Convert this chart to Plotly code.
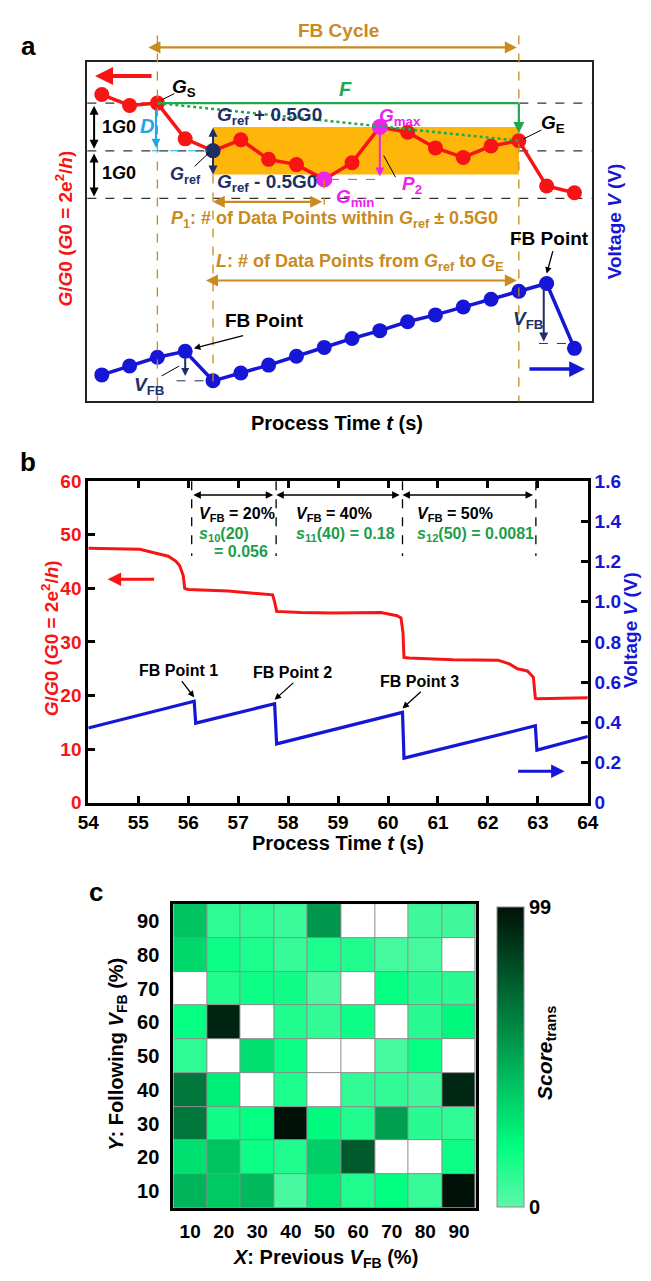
import plotly.graph_objects as go

W, H = 651, 1281
FONT = "Liberation Sans, Arial, Helvetica, sans-serif"
RED = "#F81414"
BLUE = "#1616D6"
NAVY = "#1E2F66"
ORANGE = "#C98A1E"
BAND = "#FFB60A"
MAGENTA = "#EE22EE"
GREEN = "#22A84C"
SGREEN = "#1E9E4A"
CYAN = "#1EA6E6"

# ---------------- panel a: schematic of one feedback cycle ----------------
a_idx = list(range(18))
a_G = [3.18, 2.95, 3.0, 2.25, 2.0, 2.23, 1.82, 1.71, 1.40, 1.75,
       2.5, 2.39, 2.06, 1.86, 2.10, 2.21, 1.26, 1.12]
a_V = [0.27, 0.36, 0.45, 0.51, 0.21, 0.29, 0.37, 0.46, 0.55, 0.64,
       0.72, 0.81, 0.88, 0.96, 1.04, 1.12, 1.20, 0.54]
I_S, I_REF, I_MIN, I_MAX, I_E = 2, 4, 8, 10, 15   # G_S, G_ref, G_min, G_max, G_E
I_FB1, I_FB2 = 3, 16                             # feedback points on the voltage ramp

# ---------------- panel b: measured conductance / voltage ----------------
b_t = [54.0, 55.03, 55.6, 55.75, 55.83, 55.9, 55.93, 56.0, 56.8, 57.37,
       57.69, 57.73, 57.77, 58.25, 58.9, 59.86, 60.18, 60.26, 60.3, 60.32,
       60.42, 61.3, 62.2, 62.43, 62.59, 62.79, 62.91, 62.95, 62.99, 64.0]
b_G = [47.5, 47.3, 46.0, 45.1, 44.2, 42.4, 40.0, 39.8, 39.5, 39.0,
       38.8, 37.5, 35.7, 35.5, 35.4, 35.5, 34.9, 34.5, 31.7, 27.1,
       27.0, 26.7, 26.6, 25.9, 25.0, 24.6, 23.4, 19.5, 19.4, 19.6]
b_vt = [54.0, 56.12, 56.15, 57.73, 57.77, 60.29, 60.32, 62.95, 62.98, 64.0]
b_V = [0.372, 0.505, 0.396, 0.493, 0.293, 0.450, 0.222, 0.383, 0.262, 0.330]
fb_t = [56.07, 57.76, 60.29, 62.96]
fb_labels = ["20%", "40%", "50%"]
x_ticks_b = list(range(54, 65))
g_ticks_b = [0, 10, 20, 30, 40, 50, 60]
v_ticks_b = [0, 0.2, 0.4, 0.6, 0.8, 1.0, 1.2, 1.4, 1.6]
v_ticktext_b = ["0", "0.2", "0.4", "0.6", "0.8", "1.0", "1.2", "1.4", "1.6"]

# ---------------- panel c: transition score map ----------------
prev_vfb = [10, 20, 30, 40, 50, 60, 70, 80, 90]
follow_vfb = [10, 20, 30, 40, 50, 60, 70, 80, 90]
score = [
    [45, 38, 43, 4, 27, 13, 20, 8, 99],           # Y = 10
    [30, 40, 17, 13, 36, 75, None, None, 17],     # Y = 20
    [65, 16, 19, 99, 21, 13, 52, 11, 10],         # Y = 30
    [65, 25, None, 14, None, 9, 9, 6, 92],        # Y = 40
    [10, None, 30, 17, None, None, 5, 19, None],  # Y = 50
    [19, 93, None, 13, 9, 17, None, 11, 22],      # Y = 60
    [None, 13, 17, 16, 4, None, 19, 11, 11],      # Y = 70
    [33, 17, 14, 8, 14, 13, 5, 5, None],          # Y = 80
    [40, 10, 10, 7, 55, None, None, 6, 6],        # Y = 90
]


def PX(x):
    return x / W


def PY(y):
    return 1 - y / H


# panel a geometry
A_L, A_R, A_T, A_B = 79, 601, 53, 398
A_XR = (-0.52, 17.62)
A_GR = (-3.26, 3.86)
A_VR = (0, 3.45)


def apx(i):
    return A_L + (i - A_XR[0]) / (A_XR[1] - A_XR[0]) * (A_R - A_L)


def apy(g):
    return A_B - (g - A_GR[0]) / (A_GR[1] - A_GR[0]) * (A_B - A_T)


def apv(v):
    return A_B - (v - A_VR[0]) / (A_VR[1] - A_VR[0]) * (A_B - A_T)


# panel b geometry
B_L, B_R, B_T, B_B = 80, 597, 479, 806
B_XR, B_GR, B_VR = (54, 64), (0, 60), (0, 1.6)


def bpx(t):
    return B_L + (t - B_XR[0]) / (B_XR[1] - B_XR[0]) * (B_R - B_L)


def bpg(g):
    return B_B - (g - B_GR[0]) / (B_GR[1] - B_GR[0]) * (B_B - B_T)


def bpv(v):
    return B_B - (v - B_VR[0]) / (B_VR[1] - B_VR[0]) * (B_B - B_T)


# panel c geometry
C_L, C_R, C_T, C_B = 168, 481, 909, 1218

annotations = []
shapes = []


def txt(x, y, s, size=16, color="black", xanchor="center", yanchor="middle", angle=0):
    annotations.append(dict(
        x=PX(x), y=PY(y), xref="paper", yref="paper", text=s, showarrow=False,
        font=dict(family=FONT, size=size, color=color, weight="bold"),
        xanchor=xanchor, yanchor=yanchor, textangle=angle))


def arrow(x0, y0, x1, y1, color, width=2.0, head=2, size=1.0, both=False):
    annotations.append(dict(
        x=PX(x1), y=PY(y1), xref="paper", yref="paper",
        ax=x0 - x1, ay=y0 - y1, axref="pixel", ayref="pixel",
        text="", showarrow=True, arrowhead=head, startarrowhead=head,
        arrowsize=size, startarrowsize=size, arrowwidth=width, arrowcolor=color,
        arrowside="end+start" if both else "end"))


def seg(x0, y0, x1, y1, color, width=1.5, dash="solid", layer="above"):
    shapes.append(dict(type="line", xref="paper", yref="paper",
                       x0=PX(x0), y0=PY(y0), x1=PX(x1), y1=PY(y1),
                       line=dict(color=color, width=width, dash=dash), layer=layer))


fig = go.Figure()

# ---------------- panel a traces ----------------
G_S, G_REF, G_MIN, G_MAX, G_E = a_G[I_S], a_G[I_REF], a_G[I_MIN], a_G[I_MAX], a_G[I_E]

fig.add_trace(go.Scatter(x=a_idx, y=a_G, xaxis="x", yaxis="y", mode="lines+markers",
                         line=dict(color=RED, width=3.5), marker=dict(color=RED, size=15)))
fig.add_trace(go.Scatter(x=[I_REF], y=[G_REF], xaxis="x", yaxis="y", mode="markers",
                         marker=dict(color=NAVY, size=15)))
fig.add_trace(go.Scatter(x=[I_MIN, I_MAX], y=[G_MIN, G_MAX], xaxis="x", yaxis="y", mode="markers",
                         marker=dict(color=MAGENTA, size=16)))
fig.add_trace(go.Scatter(x=a_idx, y=a_V, xaxis="x", yaxis="y2", mode="lines+markers",
                         line=dict(color=BLUE, width=3.5), marker=dict(color=BLUE, size=15)))

# reference levels and the tolerance band
for g in [G_S, G_REF, G_REF - 1]:
    shapes.append(dict(type="line", xref="x domain", yref="y", x0=0, x1=1, y0=g, y1=g,
                       line=dict(color="#333333", width=1.3, dash="dash"), layer="below"))
shapes.append(dict(type="rect", xref="x", yref="y", x0=I_REF, x1=I_E,
                   y0=G_REF - 0.5, y1=G_REF + 0.5, fillcolor=BAND,
                   line=dict(width=0), layer="below"))

# cycle boundaries
seg(apx(I_S), 26, apx(I_S), A_B, ORANGE, 1.3, "dash")
seg(apx(I_E), 26, apx(I_E), A_B, ORANGE, 1.3, "dash")
seg(apx(I_REF), apy(G_REF - 0.5), apx(I_REF), 381, ORANGE, 1.3, "dash")
seg(apx(I_MIN), apy(G_MIN), apx(I_MIN), 198, ORANGE, 1.3, "dash")
arrow(apx(I_S) + 2, 38, apx(I_E) - 2, 38, ORANGE, 2.2, 2, 1.1, both=True)
txt((apx(I_S) + apx(I_E)) / 2, 21, "FB Cycle", 19, ORANGE)

# F : level of G_S carried to the end of the cycle
seg(apx(I_S), apy(G_S), apx(I_E), apy(G_S), GREEN, 2.2)
arrow(apx(I_E), apy(G_S), apx(I_E), apy(G_E) - 8, GREEN, 2.2, 2, 1.0)
seg(apx(I_S), apy(G_S), apx(I_E), apy(G_E), GREEN, 2.5, "dot")
txt(346, 80, "<i>F</i>", 20, GREEN)

# 1 G0 spacing markers
arrow(86, apy(G_S) + 2, 86, apy(G_REF) - 2, "black", 2, 2, 0.9, both=True)
arrow(86, apy(G_REF) + 2, 86, apy(G_REF - 1) - 2, "black", 2, 2, 0.9, both=True)
txt(92, 119, "1<i>G</i>0", 18, "black", xanchor="left")
txt(92, 166, "1<i>G</i>0", 18, "black", xanchor="left")

# D : drop from G_S to G_ref
arrow(150, apy(G_S) + 6, 150, apy(G_REF) - 3, CYAN, 2, 2, 0.9)
seg(146, apy(G_REF), apx(I_REF) - 6, apy(G_REF), CYAN, 1, "dash")
txt(141, 118, "<i>D</i>", 20, CYAN)

# G_ref +/- 0.5 G0
arrow(apx(I_REF), apy(G_REF + 0.5), apx(I_REF), apy(G_REF - 0.5), NAVY, 2, 2, 0.9, both=True)
txt(211, 108, "<i>G</i><sub>ref</sub> + 0.5G0", 19, NAVY, xanchor="left")
txt(211, 176, "<i>G</i><sub>ref</sub> - 0.5G0", 19, NAVY, xanchor="left")
txt(181, 168, "<i>G</i><sub>ref</sub>", 18, NAVY)
seg(190, 159, apx(I_REF) - 4, apy(G_REF) + 2, "black", 1)

# G_S, G_E labels
txt(179, 79, "<i>G</i><sub>S</sub>", 19, "black")
seg(169, 85, apx(I_S) + 4, apy(G_S) - 3, "black", 1)
txt(561, 116, "<i>G</i><sub>E</sub>", 19, "black")
seg(549, 122, apx(I_E) + 5, apy(G_E) - 2, "black", 1)

# G_max / G_min and P2
arrow(apx(I_MAX), apy(G_MAX) + 7, apx(I_MAX), apy(G_MIN) - 3, MAGENTA, 2, 2, 0.9)
seg(apx(I_MIN) + 6, apy(G_MIN), apx(I_MAX), apy(G_MIN), MAGENTA, 1, "dash")
txt(403, 109, "<i>G</i><sub>max</sub>", 19, MAGENTA)
txt(356, 191, "<i>G</i><sub>min</sub>", 19, MAGENTA)
txt(415, 178, "<i>P</i><sub>2</sub>", 19, MAGENTA)
seg(398, 170, apx(I_MAX) + 4, 148, "black", 1)

# P1 and L spans
arrow(apx(I_REF) + 2, 195, apx(I_MIN) - 2, 195, ORANGE, 2.2, 2, 1.1, both=True)
txt(335, 213, "<i>P</i><sub>1</sub>: # of Data Points within <i>G</i><sub>ref</sub> \u00b1 0.5G0", 18, ORANGE)
txt(361, 257, "<i>L</i>: # of Data Points from <i>G</i><sub>ref</sub> to <i>G</i><sub>E</sub>", 18, ORANGE)
arrow(apx(I_REF) + 2, 275, apx(I_E) - 2, 275, ORANGE, 2.2, 2, 1.1, both=True)

# feedback points on the voltage ramp
txt(557, 232, "FB Point", 19, "black")
arrow(561, 244, apx(I_FB2), apv(a_V[I_FB2]) - 10, "black", 1.3, 2, 1.0)
arrow(apx(I_FB2) - 3, apv(a_V[I_FB2]) + 6, apx(I_FB2) - 3, apv(a_V[I_FB2 + 1]) - 7, NAVY, 2, 2, 0.9)
seg(apx(I_FB2) - 8, apv(a_V[I_FB2 + 1]) - 5, apx(I_FB2 + 1) - 2, apv(a_V[I_FB2 + 1]) - 5, NAVY, 1, "dash")
txt(535, 315, "<i>V</i><sub>FB</sub>", 19, NAVY)

txt(262, 316, "FB Point", 19, "black")
arrow(240, 331, apx(I_FB1) + 9, apv(a_V[I_FB1]) - 3, "black", 1.3, 2, 1.0)
arrow(apx(I_FB1), apv(a_V[I_FB1]) + 6, apx(I_FB1), apv(a_V[I_FB1 + 1]) - 5, NAVY, 2, 2, 0.8)
seg(apx(I_FB1) - 9, apv(a_V[I_FB1 + 1]), apx(I_FB1 + 1) - 6, apv(a_V[I_FB1 + 1]), NAVY, 1, "dash")
txt(143, 382, "<i>V</i><sub>FB</sub>", 19, NAVY)
seg(156, 372, 174, 362, "black", 1)

# axis indicator arrows
arrow(145, 67, 87, 67, RED, 4, 2, 0.9)
arrow(537, 365, 594, 365, BLUE, 3.5, 2, 0.9)

txt(18, 37, "a", 26, "black")
txt(337, 420, "Process Time <i>t</i> (s)", 20, "black")
txt(55, 222, "<i>G</i>/<i>G</i>0 (<i>G</i>0 = 2e<sup>2</sup>/<i>h</i>)", 19, RED, angle=-90)
txt(625, 215, "Voltage <i>V</i> (V)", 19, BLUE, angle=-90)

# ---------------- panel b traces ----------------
fig.add_trace(go.Scatter(x=b_t, y=b_G, xaxis="x2", yaxis="y3", mode="lines",
                         line=dict(color=RED, width=3)))
fig.add_trace(go.Scatter(x=b_vt, y=b_V, xaxis="x2", yaxis="y4", mode="lines",
                         line=dict(color=BLUE, width=3.2)))

for t in fb_t:
    seg(bpx(t), B_T, bpx(t), 555, "black", 1.3, "dash")
for k in range(3):
    arrow(bpx(fb_t[k]) + 3, 493, bpx(fb_t[k + 1]) - 3, 493, "black", 1.5, 2, 1.0, both=True)

txt(bpx(fb_t[0]) + 6, 513, "<i>V</i><sub>FB</sub> = " + fb_labels[0], 16, "black", xanchor="left")
txt(bpx(fb_t[0]) + 6, 533, "<i>s</i><sub>10</sub>(20)", 16, SGREEN, xanchor="left")
txt(bpx(fb_t[1]) - 6, 551, "= 0.056", 16, SGREEN, xanchor="right")
txt(bpx(fb_t[1]) + 19, 513, "<i>V</i><sub>FB</sub> = " + fb_labels[1], 16, "black", xanchor="left")
txt(bpx(fb_t[1]) + 19, 533, "<i>s</i><sub>11</sub>(40) = 0.18", 16, SGREEN, xanchor="left")
txt(bpx(fb_t[2]) + 13, 513, "<i>V</i><sub>FB</sub> = " + fb_labels[2], 16, "black", xanchor="left")
txt(bpx(fb_t[2]) + 13, 533, "<i>s</i><sub>12</sub>(50) = 0.0081", 16, SGREEN, xanchor="left")

for k, (lx, ly) in enumerate([(173, 672), (291, 674), (423, 683)]):
    peak_t, peak_v = b_vt[2 * k + 1], b_V[2 * k + 1]
    txt(lx, ly, "FB Point %d" % (k + 1), 16, "black")
    arrow(lx + (3 if k == 0 else 2), ly + 9, bpx(peak_t), bpv(peak_v) - 4, "black", 1.3, 2, 1.0)

arrow(148, bpg(41.7), 100, bpg(41.7), RED, 3, 2, 0.9)
arrow(525, bpv(0.157), 573, bpv(0.157), BLUE, 3, 2, 0.9)

txt(18, 460, "b", 26, "black")
txt(338, 847, "Process Time <i>t</i> (s)", 20, "black")
txt(40, 639, "<i>G</i>/<i>G</i>0 (<i>G</i>0 = 2e<sup>2</sup>/<i>h</i>)", 19, RED, angle=-90)
txt(641, 630, "Voltage <i>V</i> (V)", 19, BLUE, angle=-90)

# ---------------- panel c traces ----------------
missing = [[1 if v is None else None for v in row] for row in score]
shapes.append(dict(type="rect", xref="x3", yref="y5", x0=5, x1=95, y0=5, y1=95,
                   fillcolor="#8C8C8C", line=dict(width=0), layer="below"))
fig.add_trace(go.Heatmap(x=prev_vfb, y=follow_vfb, z=missing, xaxis="x3", yaxis="y5",
                         colorscale=[[0, "white"], [1, "white"]], showscale=False,
                         xgap=1, ygap=1, hoverinfo="skip"))
fig.add_trace(go.Heatmap(
    x=prev_vfb, y=follow_vfb, z=score, xaxis="x3", yaxis="y5",
    zmin=0, zmax=99, xgap=1, ygap=1,
    colorscale=[[0, "#5CF7A8"], [0.2, "#00FF80"], [1, "#001208"]],
    colorbar=dict(x=PX(503), xanchor="left", y=PY(912), yanchor="top",
                  len=(1217 - 912) / H, lenmode="fraction",
                  thickness=27, thicknessmode="pixels", xpad=0, ypad=0,
                  outlinewidth=1, outlinecolor="#8C8C8C",
                  tickvals=[0, 99], ticktext=["0", "99"], ticks="",
                  tickfont=dict(family=FONT, size=20, color="black", weight="bold"))))

txt(88, 897, "c", 26, "black")
txt(326, 1269, "<i>X</i>: Previous <i>V</i><sub>FB</sub> (%)", 20, "black")
txt(110, 1062, "<i>Y</i>: Following <i>V</i><sub>FB</sub> (%)", 20, "black", angle=-90)
txt(553, 1060, "<i>Score</i><sub>trans</sub>", 21, "black", angle=-90)

# ---------------- axes ----------------
blank = dict(showgrid=False, zeroline=False, showticklabels=False, ticks="")

fig.update_layout(
    width=W, height=H, margin=dict(l=0, r=0, t=0, b=0),
    paper_bgcolor="white", plot_bgcolor="white", showlegend=False,
    font=dict(family=FONT, color="black"),
    xaxis=dict(domain=[PX(A_L), PX(A_R)], range=list(A_XR), anchor="y",
               showline=True, mirror=True, linecolor="#222", linewidth=2, **blank),
    yaxis=dict(domain=[PY(A_B), PY(A_T)], range=list(A_GR), anchor="x",
               showline=True, mirror=True, linecolor="#222", linewidth=2, **blank),
    yaxis2=dict(overlaying="y", anchor="x", side="right", range=list(A_VR), visible=False),
    xaxis2=dict(domain=[PX(B_L), PX(B_R)], range=list(B_XR), anchor="y3",
                tickvals=x_ticks_b, ticks="inside", ticklen=7, tickwidth=2.5, tickcolor="black",
                showline=True, mirror="ticks", linecolor="black", linewidth=3,
                showgrid=False, zeroline=False,
                tickfont=dict(family=FONT, size=19, color="black", weight="bold")),
    yaxis3=dict(domain=[PY(B_B), PY(B_T)], range=list(B_GR), anchor="x2",
                tickvals=g_ticks_b, ticks="inside", ticklen=7, tickwidth=2.5, tickcolor="black",
                showline=True, linecolor="black", linewidth=3, showgrid=False, zeroline=False,
                tickfont=dict(family=FONT, size=19, color=RED, weight="bold")),
    yaxis4=dict(overlaying="y3", anchor="x2", side="right", range=list(B_VR),
                tickvals=v_ticks_b, ticktext=v_ticktext_b, ticks="inside", ticklen=7,
                tickwidth=2.5, tickcolor="black", showline=True, linecolor="black", linewidth=3,
                showgrid=False, zeroline=False,
                tickfont=dict(family=FONT, size=19, color=BLUE, weight="bold")),
    xaxis3=dict(domain=[PX(C_L), PX(C_R)], range=[5, 95], anchor="y5",
                tickvals=prev_vfb, ticks="", showline=True, mirror=True, linecolor="black",
                linewidth=3, showgrid=False, zeroline=False,
                tickfont=dict(family=FONT, size=19, color="black", weight="bold"),
                ticklabelstandoff=4),
    yaxis5=dict(domain=[PY(C_B), PY(C_T)], range=[5, 95], anchor="x3",
                tickvals=follow_vfb, ticks="", showline=True, mirror=True, linecolor="black",
                linewidth=3, showgrid=False, zeroline=False,
                tickfont=dict(family=FONT, size=20, color="black", weight="bold"),
                ticklabelstandoff=7),
    annotations=annotations,
    shapes=shapes,
)

fig.write_html("out.html")
